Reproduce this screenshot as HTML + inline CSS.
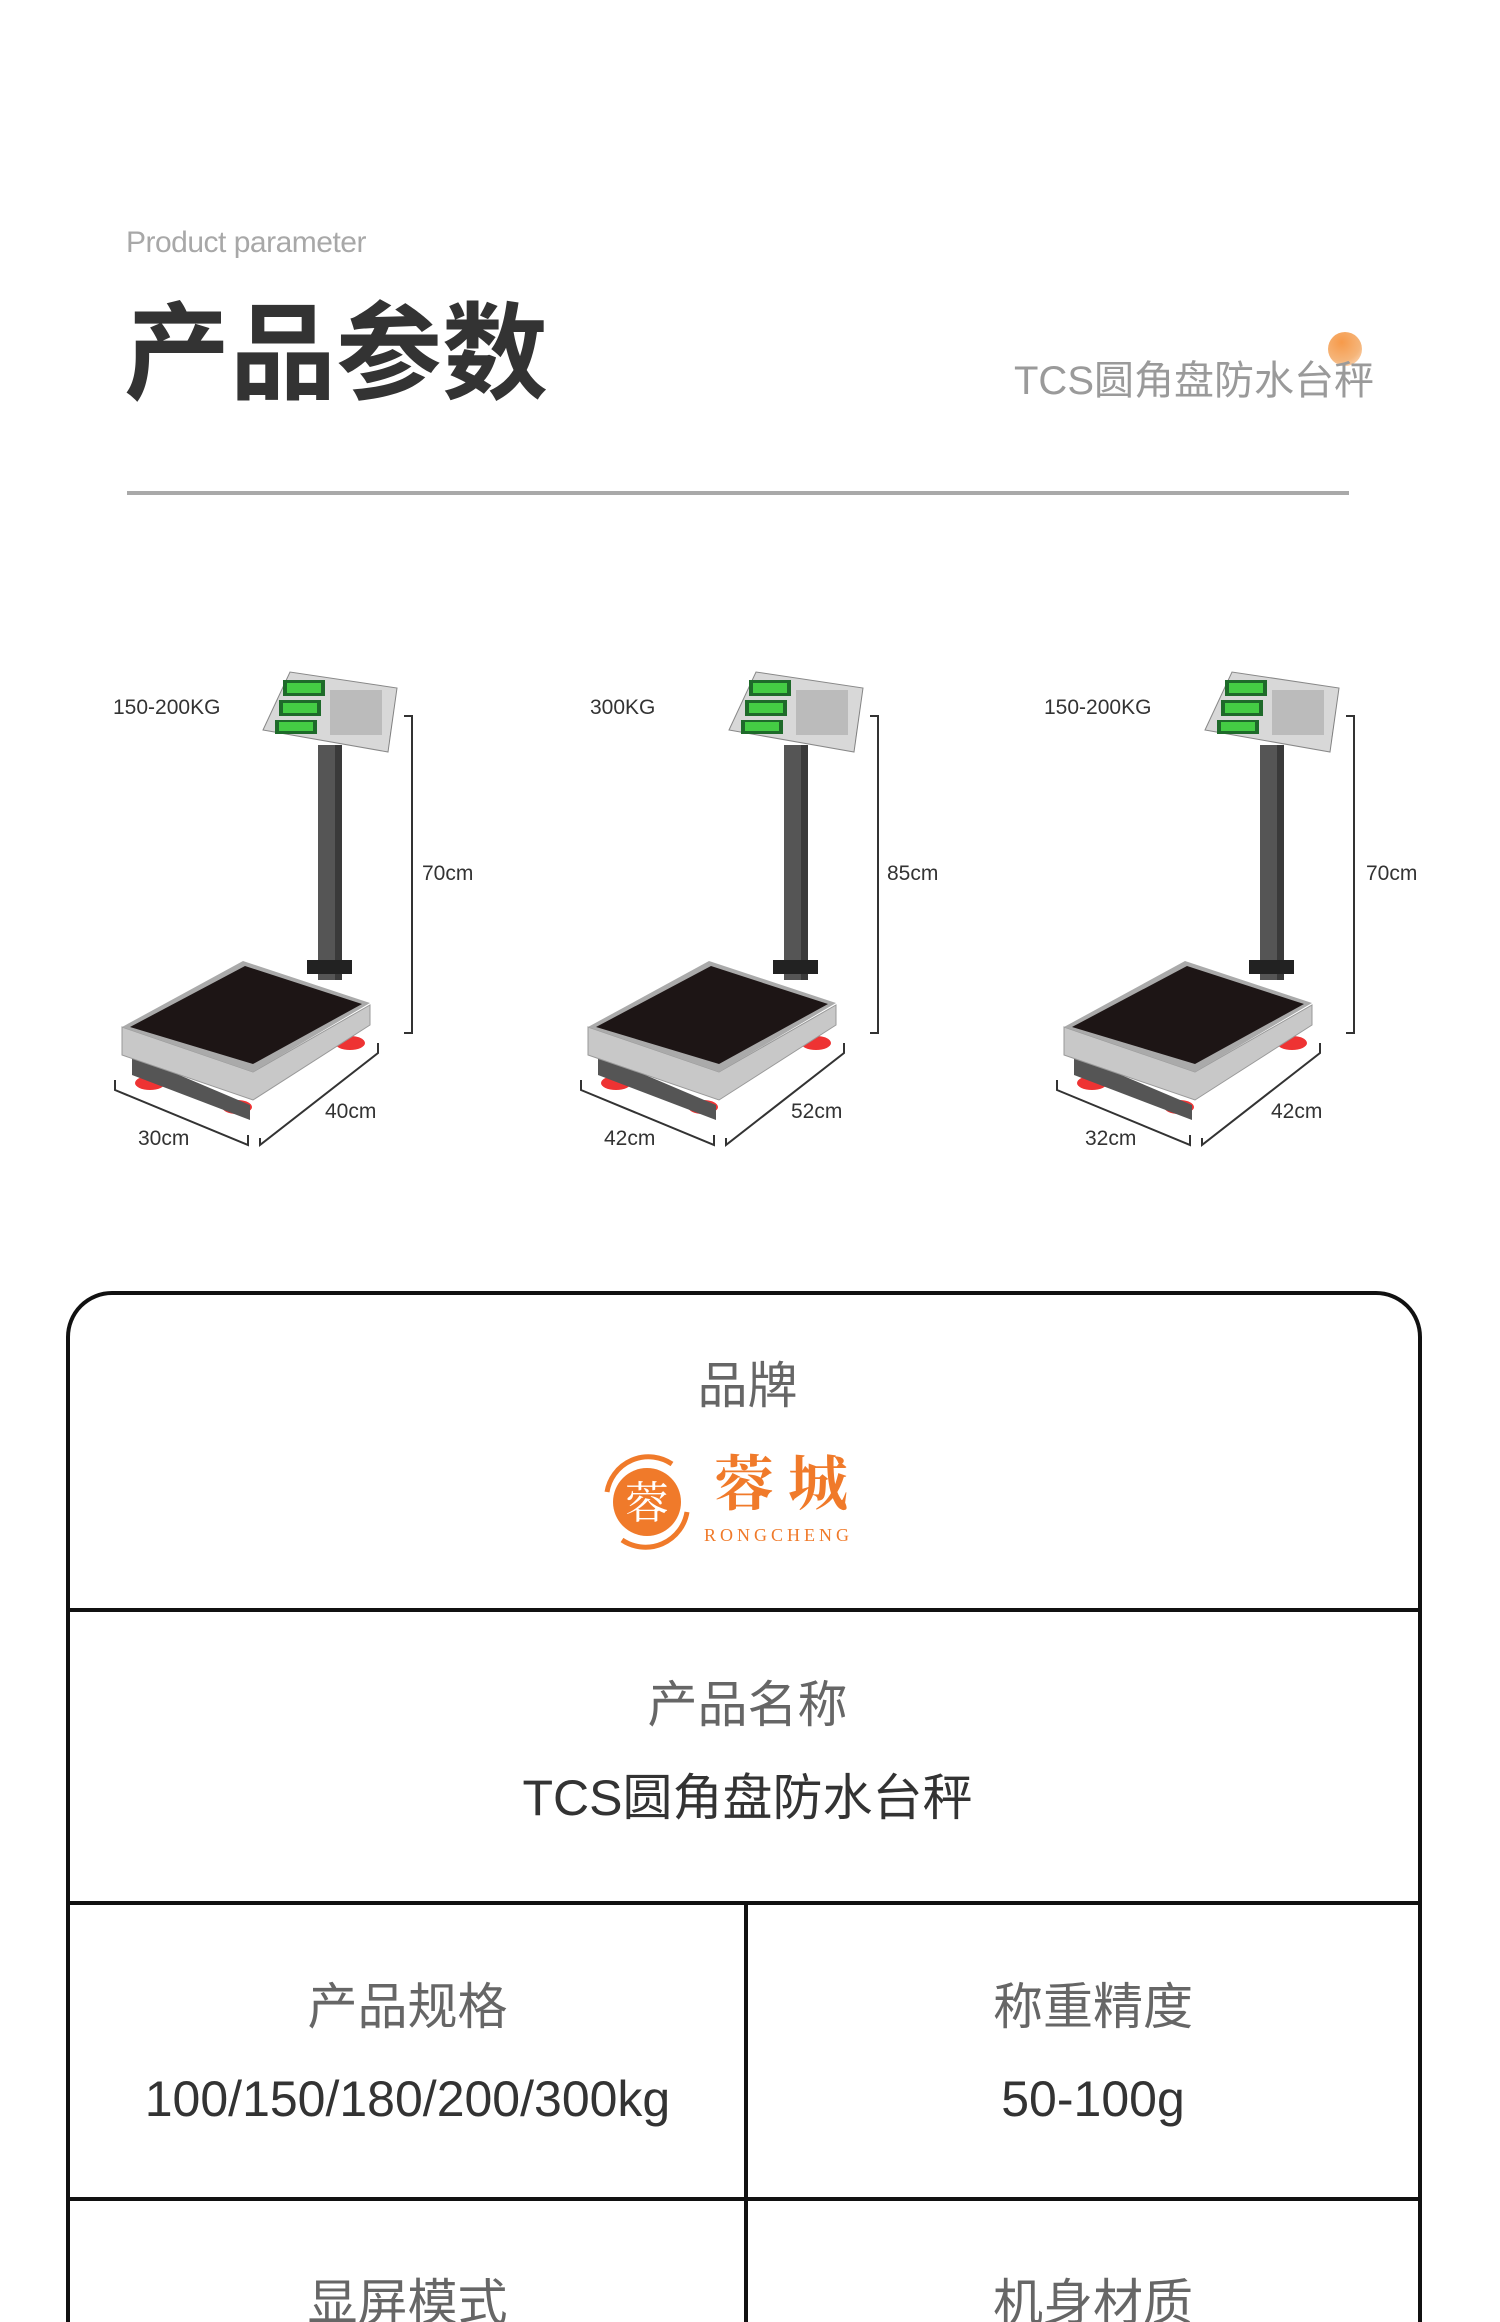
<!DOCTYPE html>
<html style="width:1500px;height:2322px;overflow:hidden;"><head><meta charset="utf-8"><style>
html,body{margin:0;padding:0;background:#fff;}
body{width:1500px;height:2322px;overflow:hidden;font-family:"Liberation Sans","Noto Sans CJK SC",sans-serif;}
#wrap{position:relative;width:1500px;height:2322px;overflow:hidden;}
.t{position:absolute;white-space:nowrap;}
.c{position:absolute;text-align:center;white-space:nowrap;}
</style></head><body><div id="wrap">
<div class="t" style="left:126px;top:226px;font-size:30px;color:#a8a8a8;letter-spacing:-0.5px;">Product parameter</div>
<div class="t" style="left:124px;top:290px;font-size:106px;line-height:110px;color:#333;font-weight:bold;font-family:'Noto Sans CJK SC',sans-serif;">产品参数</div>
<div style="position:absolute;left:1328px;top:332px;width:34px;height:34px;border-radius:50%;background:radial-gradient(circle at 40% 30%,#f79a4a,#f5b57a 60%,#fde3cc);"></div>
<div class="t" style="left:1014px;top:358px;font-size:40px;line-height:46px;color:#9a9a9a;">TCS圆角盘防水台秤</div>
<div style="position:absolute;left:127px;top:491px;width:1222px;height:4px;background:#a9a9a9;"></div>

<svg style="position:absolute;left:0;top:0" width="1500" height="1200" viewBox="0 0 1500 1200">
<defs>
<g id="sc">
 <ellipse cx="150" cy="1083" rx="15" ry="7" fill="#e33"/>
 <ellipse cx="237" cy="1107" rx="15" ry="7" fill="#e33"/>
 <ellipse cx="350" cy="1043" rx="15" ry="7" fill="#e33"/>
 <polygon points="132,1055 250,1105 250,1120 132,1075" fill="#555"/>
 <polygon points="122,1027 253,1072 370,1005 370,1025 253,1100 122,1055" fill="#c8c8c8" stroke="#999"/>
 <polygon points="122,1027 243,961 370,1003 253,1072" fill="#aaa"/>
 <polygon points="130,1027 245,966 362,1004 253,1064" fill="#1d1515"/>
 <rect x="318" y="745" width="24" height="235" fill="#555"/>
 <rect x="335" y="745" width="7" height="235" fill="#3a3a3a"/>
 <rect x="307" y="960" width="45" height="14" fill="#222"/>
 <polygon points="263,730 290,672 397,688 388,752" fill="#d8d8d8" stroke="#888"/>
 <polygon points="388,752 397,688 390,735" fill="#777"/>
 <rect x="283" y="680" width="42" height="16" fill="#1e6a2a"/><rect x="287" y="683" width="34" height="10" fill="#4c4"/>
 <rect x="279" y="700" width="42" height="16" fill="#1e6a2a"/><rect x="283" y="703" width="34" height="10" fill="#4c4"/>
 <rect x="275" y="720" width="42" height="14" fill="#1e6a2a"/><rect x="279" y="722" width="34" height="9" fill="#4c4"/>
 <rect x="330" y="690" width="52" height="45" fill="#bbb"/>
 <polyline points="404,716 412,716 412,1033 404,1033" fill="none" stroke="#333" stroke-width="2"/>
 <polyline points="115,1080 115,1090 248,1145 248,1135" fill="none" stroke="#333" stroke-width="2"/>
 <polyline points="260,1138 260,1145 378,1053 378,1043" fill="none" stroke="#333" stroke-width="2"/>
</g>
</defs>
<use href="#sc"/>
<use href="#sc" transform="translate(466,0)"/>
<use href="#sc" transform="translate(942,0)"/>
<g font-family="Liberation Sans, sans-serif" font-size="21" fill="#333">
 <text x="113" y="714">150-200KG</text><text x="422" y="880">70cm</text><text x="138" y="1145">30cm</text><text x="325" y="1118">40cm</text>
 <text x="590" y="714">300KG</text><text x="887" y="880">85cm</text><text x="604" y="1145">42cm</text><text x="791" y="1118">52cm</text>
 <text x="1044" y="714">150-200KG</text><text x="1366" y="880">70cm</text><text x="1085" y="1145">32cm</text><text x="1271" y="1118">42cm</text>
</g>
</svg>

<div style="position:absolute;left:66px;top:1291px;width:1348px;height:1100px;border:4px solid #111;border-radius:46px;"></div>
<div style="position:absolute;left:66px;top:1608px;width:1356px;height:4px;background:#111;"></div>
<div style="position:absolute;left:66px;top:1901px;width:1356px;height:4px;background:#111;"></div>
<div style="position:absolute;left:66px;top:2197px;width:1356px;height:4px;background:#111;"></div>
<div style="position:absolute;left:744px;top:1903px;width:4px;height:420px;background:#111;"></div>

<div class="c" style="left:0;width:1495px;top:1358px;font-size:50px;line-height:56px;color:#666;">品牌</div>
<svg style="position:absolute;left:592px;top:1452px" width="110" height="100" viewBox="0 0 110 100">
 <circle cx="55" cy="50" r="34" fill="#f07a2a"/>
 <path d="M15,40 A42,42 0 0 1 80,12" fill="none" stroke="#f07a2a" stroke-width="5"/>
 <path d="M95,60 A42,42 0 0 1 30,88" fill="none" stroke="#f07a2a" stroke-width="5"/>
 <text x="55" y="66" text-anchor="middle" font-size="44" fill="#fff" font-family="Noto Serif CJK SC, serif">蓉</text>
</svg>
<div class="t" style="left:714px;top:1447px;font-size:60px;line-height:66px;color:#f07a2a;letter-spacing:14px;font-family:'Noto Serif CJK SC',serif;font-weight:bold;">蓉城</div>
<div class="t" style="left:704px;top:1525px;font-size:18px;color:#f07a2a;letter-spacing:4px;font-family:'Liberation Serif',serif;">RONGCHENG</div>

<div class="c" style="left:0;width:1495px;top:1677px;font-size:50px;line-height:56px;color:#666;">产品名称</div>
<div class="c" style="left:0;width:1495px;top:1770px;font-size:50px;line-height:56px;color:#333;">TCS圆角盘防水台秤</div>

<div class="c" style="left:70px;width:675px;top:1979px;font-size:50px;line-height:56px;color:#666;">产品规格</div>
<div class="c" style="left:70px;width:675px;top:2071px;font-size:50px;line-height:56px;color:#333;">100/150/180/200/300kg</div>
<div class="c" style="left:760px;width:666px;top:1979px;font-size:50px;line-height:56px;color:#666;">称重精度</div>
<div class="c" style="left:760px;width:666px;top:2071px;font-size:50px;line-height:56px;color:#333;">50-100g</div>
<div class="c" style="left:70px;width:675px;top:2275px;font-size:50px;line-height:56px;color:#666;">显屏模式</div>
<div class="c" style="left:760px;width:666px;top:2275px;font-size:50px;line-height:56px;color:#666;">机身材质</div>
</div></body></html>
